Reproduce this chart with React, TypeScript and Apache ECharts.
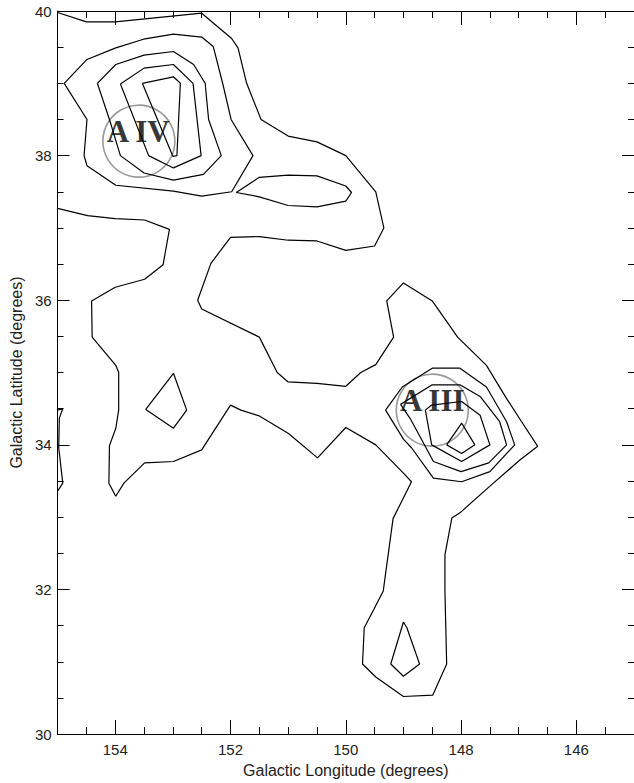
import React, { useEffect, useRef } from "react";
import * as echarts from "echarts";

// Axis ticks (degrees)
const lonMajorTicks = [146, 148, 150, 152, 154];
const lonRange = [145, 155];
const latRange = [30, 40];

// Contour polylines [galactic longitude, galactic latitude]
const level1Main = [
  [155.0, 39.98], [154.5, 39.85], [154.0, 39.85], [152.5, 39.97], [151.98, 39.62], [151.87, 39.49],
  [151.72, 39.0], [151.47, 38.5], [151.0, 38.27], [150.5, 38.19], [150.0, 38.0], [149.48, 37.5],
  [149.34, 37.0], [149.5, 36.75], [150.0, 36.69], [150.5, 36.82], [151.0, 36.83], [151.5, 36.88],
  [152.0, 36.87], [152.34, 36.51], [152.57, 36.0], [152.5, 35.88], [151.5, 35.49], [151.19, 35.0],
  [151.0, 34.87], [150.5, 34.85], [150.0, 34.81], [149.74, 35.0], [149.48, 35.11], [149.17, 35.49],
  [149.29, 35.99], [149.0, 36.24], [148.5, 35.99], [148.06, 35.49], [147.56, 35.1], [147.21, 34.64],
  [146.95, 34.32], [146.67, 33.98], [146.98, 33.79], [147.47, 33.45], [148.02, 33.06], [148.16, 32.99],
  [148.28, 32.48], [148.28, 31.98], [148.25, 30.97], [148.49, 30.54], [149.0, 30.52], [149.48, 30.79],
  [149.71, 30.97], [149.68, 31.47], [149.51, 31.73], [149.35, 31.98], [149.18, 32.98], [148.86, 33.49],
  [149.0, 33.61], [149.48, 34.0], [150.0, 34.24], [150.49, 33.82], [151.0, 34.16], [151.5, 34.4],
  [151.82, 34.48], [152.0, 34.55], [152.5, 33.93], [152.99, 33.77], [153.49, 33.75], [153.85, 33.47],
  [153.99, 33.29], [154.11, 33.47], [154.1, 33.99], [153.99, 34.23], [153.94, 34.48], [153.94, 35.0],
  [153.99, 35.1], [154.4, 35.49], [154.41, 35.99], [154.0, 36.18], [153.49, 36.29], [153.17, 36.49],
  [153.06, 36.98], [153.49, 37.11], [154.0, 37.13], [154.48, 37.17], [155.0, 37.27],
];
const level1Triangle = [[152.99, 34.99], [152.76, 34.48], [152.99, 34.23], [153.47, 34.49], [152.99, 34.99]];
const level1LeftEdge = [[155.0, 34.48], [154.91, 34.5], [154.97, 34.37], [154.98, 33.96], [154.91, 33.47], [155.0, 33.36]];
const level2TailIsland = [[149.0, 31.55], [148.94, 31.47], [148.72, 30.97], [149.0, 30.8], [149.22, 30.97], [149.0, 31.55]];
const level2Bridge = [
  [151.9, 37.49], [151.5, 37.7], [151.0, 37.73], [150.5, 37.72], [150.0, 37.58], [149.9, 37.49],
  [150.0, 37.37], [150.5, 37.29], [151.0, 37.31], [151.5, 37.43], [151.9, 37.49],
];
const level2AIV = [
  [154.885, 39.0], [154.49, 39.33], [153.99, 39.49], [153.51, 39.61], [152.99, 39.68], [152.5, 39.64],
  [152.3, 39.51], [152.13, 38.98], [151.99, 38.5], [151.61, 38.0], [151.98, 37.5], [152.5, 37.44],
  [152.99, 37.51], [153.99, 37.59], [154.49, 37.86], [154.54, 38.0], [154.49, 38.5], [154.885, 39.0],
];
const level3AIV = [
  [154.31, 39.0], [153.99, 39.26], [153.5, 39.39], [152.99, 39.44], [152.64, 39.26], [152.44, 39.0],
  [152.38, 38.5], [152.16, 38.0], [152.47, 37.74], [152.99, 37.66], [153.5, 37.76], [153.91, 38.0],
  [154.1, 38.5], [154.31, 39.0],
];
const level4AIV = [
  [153.91, 38.99], [153.5, 39.21], [152.99, 39.26], [152.65, 39.0], [152.51, 38.0], [152.99, 37.83],
  [153.42, 38.0], [153.91, 38.99],
];
const level5AIV = [[153.53, 39.0], [152.99, 39.09], [152.87, 39.0], [152.93, 38.0], [153.0, 37.99], [153.53, 39.0]];
const level2AIII = [
  [149.31, 34.48], [149.02, 34.8], [148.5, 35.06], [148.02, 35.06], [147.56, 34.8], [147.21, 34.32],
  [147.07, 34.0], [147.5, 33.63], [147.99, 33.49], [148.48, 33.54], [148.86, 33.96], [149.0, 34.08],
  [149.31, 34.48],
];
const level3AIII = [
  [149.05, 34.56], [148.5, 34.83], [148.02, 34.83], [147.67, 34.67], [147.33, 34.32], [147.21, 34.0],
  [147.52, 33.75], [148.0, 33.63], [148.48, 33.77], [148.88, 34.36], [149.05, 34.56],
];
const level4AIII = [
  [148.62, 34.48], [148.51, 34.55], [147.99, 34.6], [147.67, 34.41], [147.5, 34.0], [147.99, 33.77],
  [148.51, 34.0], [148.62, 34.48],
];
const level5AIII = [[148.25, 34.0], [147.99, 34.3], [147.76, 34.0], [147.99, 33.88], [148.25, 34.0]];

const contours = [
  level1Main, level1Triangle, level1LeftEdge, level2TailIsland, level2Bridge, level2AIV, level3AIV,
  level4AIV, level5AIV, level2AIII, level3AIII, level4AIII, level5AIII,
];

// Region markers
const regionCircles = [[153.59, 38.2], [148.5, 34.48]];
const regionLabels = [
  { name: "A IV", value: [153.6, 38.34] },
  { name: "A III", value: [148.5, 34.62] },
];

const TEXT = "#222";
const FONT = "Liberation Sans, Arial, sans-serif";

export default function App() {
  const ref = useRef<HTMLDivElement>(null);
  useEffect(() => {
    if (!ref.current) return;
    const chart = echarts.init(ref.current, null, { renderer: "svg" });
    const baseX = {
      type: "value",
      min: lonRange[0],
      max: lonRange[1],
      inverse: true,
      splitLine: { show: false },
      axisLine: { show: true, onZero: false, lineStyle: { color: "#000", width: 1 } },
    };
    const baseY = {
      type: "value",
      min: latRange[0],
      max: latRange[1],
      interval: 2,
      splitLine: { show: false },
      axisLine: { show: true, onZero: false, lineStyle: { color: "#000", width: 1 } },
      axisTick: { show: true, inside: true, length: 12, lineStyle: { color: "#000" } },
      minorTick: { show: true, splitNumber: 4, length: 6, lineStyle: { color: "#000" } },
    };
    const option: any = {
      animation: false,
      backgroundColor: "#fff",
      grid: { left: 55, top: 11, width: 580, height: 727, containLabel: false },
      xAxis: [
        {
          ...baseX,
          position: "bottom",
          interval: 0.5,
          name: "Galactic Longitude (degrees)",
          nameLocation: "middle",
          nameGap: 27,
          nameTextStyle: { color: TEXT, fontSize: 16, fontFamily: FONT },
          axisTick: { show: true, inside: true, length: 7, lineStyle: { color: "#000" } },
          axisLabel: {
            show: true,
            customValues: lonMajorTicks,
            color: TEXT,
            fontSize: 15,
            fontFamily: FONT,
            margin: 8,
          },
        },
        {
          ...baseX,
          position: "bottom",
          axisTick: { show: true, inside: true, length: 14, customValues: lonMajorTicks, lineStyle: { color: "#000" } },
          axisLabel: { show: false },
        },
        {
          ...baseX,
          position: "top",
          interval: 0.5,
          axisTick: { show: true, inside: true, length: 7, lineStyle: { color: "#000" } },
          axisLabel: { show: false },
        },
        {
          ...baseX,
          position: "top",
          axisTick: { show: true, inside: true, length: 14, customValues: lonMajorTicks, lineStyle: { color: "#000" } },
          axisLabel: { show: false },
        },
      ],
      yAxis: [
        {
          ...baseY,
          position: "left",
          name: "Galactic Latitude (degrees)",
          nameLocation: "middle",
          nameGap: 32,
          nameRotate: 90,
          nameTextStyle: { color: TEXT, fontSize: 16, fontFamily: FONT },
          axisLabel: { show: true, color: TEXT, fontSize: 15, fontFamily: FONT, margin: 6 },
        },
        {
          ...baseY,
          position: "right",
          axisLabel: { show: false },
        },
      ],
      series: [
        ...contours.map((c) => ({
          type: "line",
          data: c,
          xAxisIndex: 0,
          yAxisIndex: 0,
          showSymbol: false,
          symbol: "none",
          silent: true,
          lineStyle: { color: "#000", width: 1.2 },
        })),
        {
          type: "scatter",
          data: regionCircles,
          symbol: "circle",
          symbolSize: 72,
          silent: true,
          itemStyle: { color: "rgba(0,0,0,0)", borderColor: "#808080", borderWidth: 1.6 },
        },
        {
          type: "scatter",
          data: regionLabels,
          symbolSize: 0.1,
          silent: true,
          itemStyle: { color: "rgba(0,0,0,0)" },
          label: {
            show: true,
            position: "inside",
            formatter: (p: any) => p.name,
            color: "#000",
            fontFamily: "Liberation Serif, Times New Roman, serif",
            fontWeight: "bold",
            fontSize: 31,
          },
        },
      ],
    };
    chart.setOption(option);
    return () => chart.dispose();
  }, []);
  return (
    <div
      ref={ref}
      style={{ position: "fixed", left: 0, top: 0, width: 634, height: 783, background: "#fff" }}
    />
  );
}
